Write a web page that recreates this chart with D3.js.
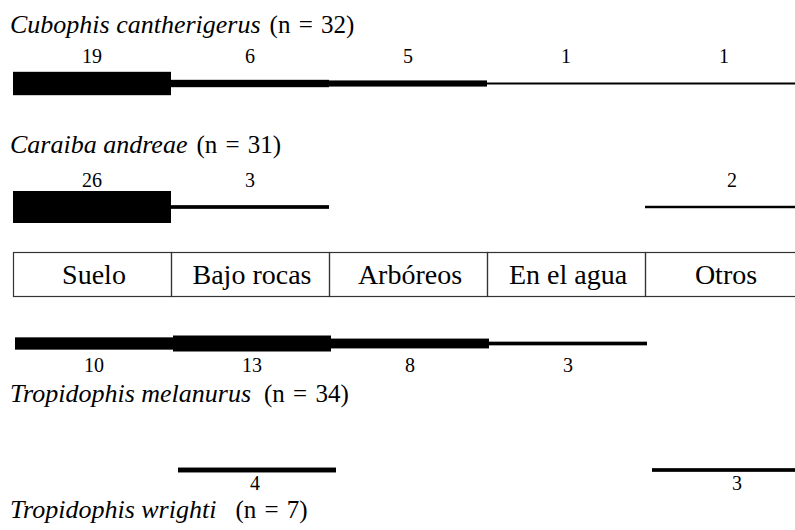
<!DOCTYPE html>
<html>
<head>
<meta charset="utf-8">
<script src="https://cdn.jsdelivr.net/npm/d3@7"></script>
<style>
  body { margin: 0; background: #fff; }
</style>
</head>
<body>
<svg width="795" height="530"></svg>
<script>
var categories = ['Suelo', 'Bajo rocas', 'Arbóreos', 'En el agua', 'Otros'];
var species = ['Cubophis cantherigerus', 'Caraiba andreae', 'Tropidophis melanurus', 'Tropidophis wrighti'];
var sampleSizes = [32, 31, 34, 7];
var cubophis = [19, 6, 5, 1, 1];
var caraiba = [26, 3, 0, 0, 2];
var melanurus = [10, 13, 8, 3, 0];
var wrighti = [0, 4, 0, 0, 3];

var serif = "'Liberation Serif', 'DejaVu Serif', 'Times New Roman', serif";

var svg = d3.select('svg'),
  w = +svg.attr('width'),
  h = +svg.attr('height');

svg.attr('font-family', serif);

var x = d3.scaleBand().domain(categories).range([13, 803]).padding(0);
var thick = d3.scaleLinear().domain([0, 26]).range([0, 32]);

// layout of each species row: bar centre, label baseline, title baseline, x shifts, gap before (n = ..)
var rows = [
  { counts: cubophis, cy: 83.5, labelY: 63, titleY: 33, dx: 0, ldx: 0, gap: 9 },
  { counts: caraiba, cy: 207, labelY: 187, titleY: 153, dx: 0, ldx: 0, gap: 9 },
  { counts: melanurus, cy: 343.5, labelY: 372, titleY: 402, dx: 2, ldx: 2, gap: 13 },
  { counts: wrighti, cy: 470, labelY: 489.5, titleY: 518, dx: 7, ldx: 5, gap: 19 }
];

/** Category box **/
var box = svg.append('g');
box.selectAll('rect')
  .data(categories)
  .enter().append('rect')
  .attr('x', function(d) { return x(d) + 0.5; })
  .attr('y', 252.5)
  .attr('width', x.bandwidth())
  .attr('height', 44)
  .attr('fill', 'none')
  .attr('stroke', '#333')
  .attr('stroke-width', 1.2);

box.selectAll('text')
  .data(categories)
  .enter().append('text')
  .attr('x', function(d) { return x(d) + x.bandwidth() / 2 + 2; })
  .attr('y', 284)
  .attr('text-anchor', 'middle')
  .attr('font-family', serif)
  .attr('font-size', 28)
  .text(function(d) { return d; });

/** Species rows **/
rows.forEach(function(r, i) {
  var g = svg.append('g');
  var data = r.counts.map(function(v, j) { return { cat: categories[j], v: v }; })
    .filter(function(d) { return d.v > 0; });

  g.selectAll('rect')
    .data(data)
    .enter().append('rect')
    .attr('x', function(d) { return x(d.cat) + r.dx; })
    .attr('y', function(d) { return r.cy - Math.max(thick(d.v), 2) / 2; })
    .attr('width', x.bandwidth())
    .attr('height', function(d) { return Math.max(thick(d.v), 2); })
    .attr('fill', '#000');

  g.selectAll('text.count')
    .data(data)
    .enter().append('text')
    .attr('class', 'count')
    .attr('x', function(d) { return x(d.cat) + x.bandwidth() / 2 + r.ldx + (d.cat === 'Otros' && i > 0 ? 8 : 0); })
    .attr('y', r.labelY)
    .attr('text-anchor', 'middle')
    .attr('font-family', serif)
    .attr('font-size', 20)
    .text(function(d) { return d.v; });

  var t = g.append('text')
    .attr('x', 10)
    .attr('y', r.titleY)
    .attr('font-family', serif)
    .attr('font-size', 26);
  t.append('tspan')
    .attr('font-style', 'italic')
    .text(species[i]);
  t.append('tspan')
    .attr('dx', r.gap)
    .attr('font-size', 25)
    .attr('word-spacing', 2)
    .text('(n = ' + sampleSizes[i] + ')');
});
</script>
</body>
</html>
